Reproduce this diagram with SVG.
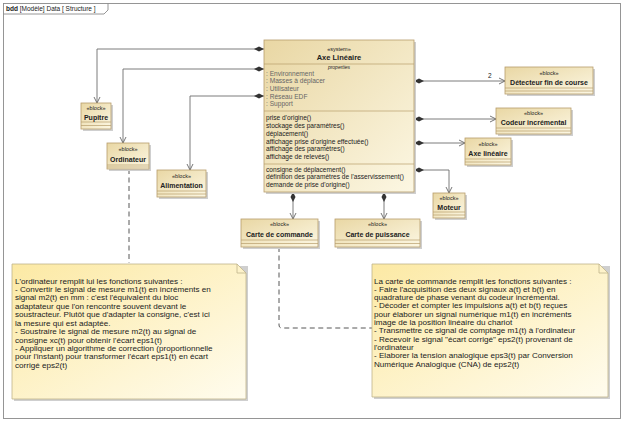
<svg xmlns="http://www.w3.org/2000/svg" width="630" height="422" viewBox="0 0 630 422">
<defs>
<linearGradient id="gb" x1="0" y1="0" x2="1" y2="1">
<stop offset="0" stop-color="#e9d7a4"/>
<stop offset="1" stop-color="#fcf7e3"/>
</linearGradient>
<linearGradient id="gn" x1="0" y1="0" x2="1" y2="1">
<stop offset="0" stop-color="#fce9a4"/>
<stop offset="1" stop-color="#fffcee"/>
</linearGradient>
<marker id="dia" viewBox="0 0 10 6" refX="0" refY="3" markerWidth="10" markerHeight="6" markerUnits="userSpaceOnUse" orient="auto">
<path d="M0,3 L5,0.5 L10,3 L5,5.5 Z" fill="#333"/>
</marker>
<marker id="arr" viewBox="0 0 8 8" refX="7" refY="4" markerWidth="8" markerHeight="8" markerUnits="userSpaceOnUse" orient="auto">
<path d="M1,1 L7,4 L1,7" fill="none" stroke="#666" stroke-width="0.9"/>
</marker>
</defs>
<style>
text{font-family:"Liberation Sans",Arial,sans-serif;fill:#222}
.st{font-size:5.5px;text-anchor:middle}
.nm{font-size:7px;font-weight:bold;text-anchor:middle}
.bx{fill:url(#gb);stroke:#b79d6c;stroke-width:0.8}
.sh{fill:#cfcfcf}
.sep{stroke:#b79d6c;stroke-width:0.7}
.op{font-size:6.6px}
.pr{font-size:6.6px;fill:#666}
.cn{fill:none;stroke:#6e6e6e;stroke-width:0.9}
.dash{fill:none;stroke:#444;stroke-width:0.9;stroke-dasharray:5,3.5}
.note{fill:url(#gn);stroke:#bfb48c;stroke-width:0.8}
.nt{font-size:8.1px}
</style>
<rect x="0" y="0" width="630" height="422" fill="#fff"/>
<g id="frame">
<rect x="3.5" y="3.5" width="617" height="415" fill="none" stroke="#8a8a8a" stroke-width="0.9"/>
<path d="M3.5,14 H104 L108,10 V3.5" fill="none" stroke="#8a8a8a" stroke-width="0.9"/>
<text x="6" y="11" style="font-size:6.5px"><tspan font-weight="bold">bdd</tspan> [Modèle] Data [ Structure ]</text>
</g>
<g id="connectors">
<path class="cn" d="M264,49 H97 V103" marker-start="url(#dia)" marker-end="url(#arr)"/>
<path class="cn" d="M264,69 H123 V143" marker-start="url(#dia)" marker-end="url(#arr)"/>
<path class="cn" d="M264,96 H190 V170" marker-start="url(#dia)" marker-end="url(#arr)"/>
<path class="cn" d="M414,81 H505" marker-start="url(#dia)" marker-end="url(#arr)"/>
<text x="488" y="78" style="font-size:6.5px">2</text>
<path class="cn" d="M414,119 H496" marker-start="url(#dia)" marker-end="url(#arr)"/>
<path class="cn" d="M414,143 H465" marker-start="url(#dia)" marker-end="url(#arr)"/>
<path class="cn" d="M414,170 H449 V193" marker-start="url(#dia)" marker-end="url(#arr)"/>
<path class="cn" d="M293,192 V219" marker-start="url(#dia)" marker-end="url(#arr)"/>
<path class="cn" d="M384,192 V219" marker-start="url(#dia)" marker-end="url(#arr)"/>
<path class="dash" d="M129,169 V263"/>
<path class="dash" d="M279,247 V325 Q279,328 282,328 H372"/>
</g>
<g id="axe-lineaire">
<rect class="sh" x="266" y="42" width="150" height="152"/>
<rect class="bx" x="264" y="40" width="150" height="152"/>
<line class="sep" x1="264" y1="64" x2="414" y2="64"/>
<line class="sep" x1="264" y1="111" x2="414" y2="111"/>
<line class="sep" x1="264" y1="164" x2="414" y2="164"/>
<text class="st" x="339" y="51">«system»</text>
<text x="339" y="60" style="font-size:7.5px;font-weight:bold;text-anchor:middle">Axe Linéaire</text>
<text x="339" y="69" style="font-size:5px;font-style:italic;text-anchor:middle">properties</text>
<text class="pr" x="266" y="75.5">: Environnement</text>
<text class="pr" x="266" y="83">: Masses à déplacer</text>
<text class="pr" x="266" y="90.5">: Utilisateur</text>
<text class="pr" x="266" y="98.5">: Réseau EDF</text>
<text class="pr" x="266" y="106">: Support</text>
<text class="op" x="266" y="119.5">prise d'origine()</text>
<text class="op" x="266" y="127.5">stockage des paramètres()</text>
<text class="op" x="266" y="135.5">déplacement()</text>
<text class="op" x="266" y="143.5">affichage prise d'origine effectuée()</text>
<text class="op" x="266" y="151">affichage des paramètres()</text>
<text class="op" x="266" y="158.5">affichage de relevés()</text>
<text class="op" x="266" y="171.5">consigne de déplacement()</text>
<text class="op" x="266" y="179">définition des paramètres de l'asservissement()</text>
<text class="op" x="266" y="186.5">demande de prise d'origine()</text>
</g>
<g id="pupitre">
<rect class="sh" x="83" y="105" width="30" height="26"/>
<rect class="bx" x="81" y="103" width="30" height="26"/>
<line class="sep" x1="81" y1="122" x2="111" y2="122"/>
<line class="sep" x1="81" y1="125.5" x2="111" y2="125.5"/>
<text class="st" x="96" y="110">«block»</text>
<text class="nm" x="96" y="119.5">Pupitre</text>
</g>
<g id="ordinateur">
<rect class="sh" x="109" y="145" width="42" height="26"/>
<rect class="bx" x="107" y="143" width="42" height="26"/>
<line class="sep" x1="107" y1="165" x2="149" y2="165"/>
<line class="sep" x1="107" y1="167" x2="149" y2="167"/>
<text class="st" x="128" y="151">«block»</text>
<text class="nm" x="128" y="161.5">Ordinateur</text>
</g>
<g id="alimentation">
<rect class="sh" x="159" y="172" width="49" height="27"/>
<rect class="bx" x="157" y="170" width="49" height="27"/>
<line class="sep" x1="157" y1="191" x2="206" y2="191"/>
<line class="sep" x1="157" y1="194" x2="206" y2="194"/>
<text class="st" x="181.5" y="178">«block»</text>
<text class="nm" x="181.5" y="188">Alimentation</text>
</g>
<g id="detecteur">
<rect class="sh" x="507" y="69" width="88" height="27"/>
<rect class="bx" x="505" y="67" width="88" height="27"/>
<line class="sep" x1="505" y1="88" x2="593" y2="88"/>
<line class="sep" x1="505" y1="91" x2="593" y2="91"/>
<text class="st" x="549" y="75">«block»</text>
<text class="nm" x="549" y="85">Détecteur fin de course</text>
</g>
<g id="codeur">
<rect class="sh" x="498" y="110" width="75" height="26"/>
<rect class="bx" x="496" y="108" width="75" height="26"/>
<line class="sep" x1="496" y1="128" x2="571" y2="128"/>
<line class="sep" x1="496" y1="131" x2="571" y2="131"/>
<text class="st" x="533.5" y="115">«block»</text>
<text class="nm" x="533.5" y="125">Codeur incrémental</text>
</g>
<g id="axe-lineaire-block">
<rect class="sh" x="467" y="140" width="46" height="27"/>
<rect class="bx" x="465" y="138" width="46" height="27"/>
<line class="sep" x1="465" y1="159" x2="511" y2="159"/>
<line class="sep" x1="465" y1="162" x2="511" y2="162"/>
<text class="st" x="488" y="146">«block»</text>
<text class="nm" x="488" y="156">Axe linéaire</text>
</g>
<g id="moteur">
<rect class="sh" x="435" y="195" width="32" height="25"/>
<rect class="bx" x="433" y="193" width="32" height="25"/>
<line class="sep" x1="433" y1="212" x2="465" y2="212"/>
<line class="sep" x1="433" y1="215" x2="465" y2="215"/>
<text class="st" x="449" y="200">«block»</text>
<text class="nm" x="449" y="210">Moteur</text>
</g>
<g id="carte-commande">
<rect class="sh" x="243" y="221" width="77" height="28"/>
<rect class="bx" x="241" y="219" width="77" height="28"/>
<line class="sep" x1="241" y1="240" x2="318" y2="240"/>
<line class="sep" x1="241" y1="243.5" x2="318" y2="243.5"/>
<text class="st" x="279.5" y="226">«block»</text>
<text class="nm" x="279.5" y="236.5">Carte de commande</text>
</g>
<g id="carte-puissance">
<rect class="sh" x="337" y="221" width="85" height="28"/>
<rect class="bx" x="335" y="219" width="85" height="28"/>
<line class="sep" x1="335" y1="240" x2="420" y2="240"/>
<line class="sep" x1="335" y1="243.5" x2="420" y2="243.5"/>
<text class="st" x="377.5" y="226">«block»</text>
<text class="nm" x="377.5" y="236.5">Carte de puissance</text>
</g>
<g id="note-ordinateur">
<path class="sh" d="M14,266 H248 V401 H14 Z"/>
<path class="note" d="M12,264 H237 L246,273 V399 H12 Z"/>
<path d="M237,264 V273 H246" fill="none" stroke="#bfb48c" stroke-width="0.8"/>
<text class="nt" x="15" y="283.5">L'ordinateur remplit lui les fonctions suivantes :</text>
<text class="nt" x="15" y="292">- Convertir le signal de mesure m1(t) en incréments en</text>
<text class="nt" x="15" y="300.4">signal m2(t) en mm : c'est l'équivalent du bloc</text>
<text class="nt" x="15" y="308.8">adaptateur que l'on rencontre souvent devant le</text>
<text class="nt" x="15" y="317.3">soustracteur. Plutôt que d'adapter la consigne, c'est ici</text>
<text class="nt" x="15" y="325.7">la mesure qui est adaptée.</text>
<text class="nt" x="15" y="334.1">- Soustraire le signal de mesure m2(t) au signal de</text>
<text class="nt" x="15" y="342.6">consigne xc(t) pour obtenir l'écart eps1(t)</text>
<text class="nt" x="15" y="351">- Appliquer un algorithme de correction (proportionnelle</text>
<text class="nt" x="15" y="359.4">pour l'instant) pour transformer l'écart eps1(t) en écart</text>
<text class="nt" x="15" y="367.8">corrigé eps2(t)</text>
</g>
<g id="note-carte">
<path class="sh" d="M374,266 H610 V399 H374 Z"/>
<path class="note" d="M372,264 H599 L608,273 V397 H372 Z"/>
<path d="M599,264 V273 H608" fill="none" stroke="#bfb48c" stroke-width="0.8"/>
<text class="nt" x="374" y="283.5">La carte de commande remplit les fonctions suivantes :</text>
<text class="nt" x="374" y="291.8">- Faire l'acquisition des deux signaux a(t) et b(t) en</text>
<text class="nt" x="374" y="300.1">quadrature de phase venant du codeur incrémental.</text>
<text class="nt" x="374" y="308.4">- Décoder et compter les impulsions a(t) et b(t) reçues</text>
<text class="nt" x="374" y="316.7">pour élaborer un signal numérique m1(t) en incréments</text>
<text class="nt" x="374" y="325">image de la position linéaire du chariot</text>
<text class="nt" x="374" y="333.3">- Transmettre ce signal de comptage m1(t) à l'ordinateur</text>
<text class="nt" x="374" y="341.6">- Recevoir le signal "écart corrigé" eps2(t) provenant de</text>
<text class="nt" x="374" y="349.9">l'ordinateur</text>
<text class="nt" x="374" y="358.2">- Elaborer la tension analogique eps3(t) par Conversion</text>
<text class="nt" x="374" y="366.5">Numérique Analogique (CNA) de eps2(t)</text>
</g>
</svg>
